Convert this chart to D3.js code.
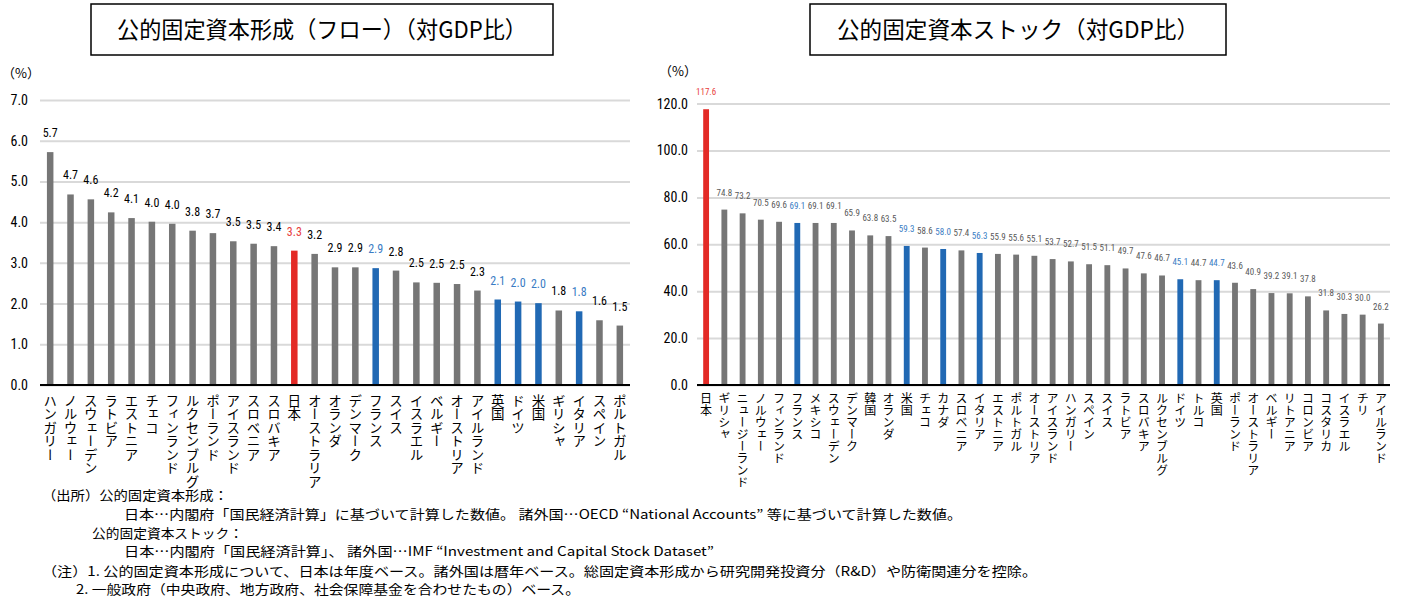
<!DOCTYPE html>
<html>
<head>
<meta charset="utf-8">
<script src="https://cdn.jsdelivr.net/npm/d3@7"></script>
<style>
  body { margin: 0; background: #fff; }
  svg text { font-family: "Noto Sans CJK JP", "Noto Sans", sans-serif; }
</style>
</head>
<body>
<div id="chart"></div>
<script>
// data
const flowCountries = ["ハンガリー","ノルウェー","スウェーデン","ラトビア","エストニア","チェコ","フィンランド","ルクセンブルグ","ポーランド","アイスランド","スロベニア","スロバキア","日本","オーストラリア","オランダ","デンマーク","フランス","スイス","イスラエル","ベルギー","オーストリア","アイルランド","英国","ドイツ","米国","ギリシャ","イタリア","スペイン","ポルトガル"];
const flowValues = [5.72,4.68,4.56,4.24,4.10,4.01,3.96,3.79,3.73,3.53,3.47,3.41,3.30,3.22,2.89,2.89,2.87,2.81,2.52,2.51,2.48,2.32,2.10,2.05,2.01,1.83,1.81,1.59,1.46];
const flowTicks = [0,1,2,3,4,5,6,7];

const stockCountries = ["日本","ギリシャ","ニュージーランド","ノルウェー","フィンランド","フランス","メキシコ","スウェーデン","デンマーク","韓国","オランダ","米国","チェコ","カナダ","スロベニア","イタリア","エストニア","ポルトガル","オーストリア","アイスランド","ハンガリー","スペイン","スイス","ラトビア","スロバキア","ルクセンブルグ","ドイツ","トルコ","英国","ポーランド","オーストラリア","ベルギー","リトアニア","コロンビア","コスタリカ","イスラエル","チリ","アイルランド"];
const stockValues = [117.6,74.8,73.2,70.5,69.6,69.1,69.1,69.1,65.9,63.8,63.5,59.3,58.6,58.0,57.4,56.3,55.9,55.6,55.1,53.7,52.7,51.5,51.1,49.7,47.6,46.7,45.1,44.7,44.7,43.6,40.9,39.2,39.1,37.8,31.8,30.3,30.0,26.2];
const stockTicks = [0,20,40,60,80,100,120];

const japan = ["日本"];
const majorCountries = ["米国","英国","ドイツ","フランス","イタリア","カナダ"];

const titles = ["公的固定資本形成（フロー）（対GDP比）", "公的固定資本ストック（対GDP比）"];
const notes = [
  "（出所）公的固定資本形成：",
  "日本…内閣府「国民経済計算」に基づいて計算した数値。 諸外国…OECD “National Accounts” 等に基づいて計算した数値。",
  "公的固定資本ストック：",
  "日本…内閣府「国民経済計算」、 諸外国…IMF “Investment and Capital Stock Dataset”",
  "（注）1. 公的固定資本形成について、日本は年度ベース。諸外国は暦年ベース。総固定資本形成から研究開発投資分（R&D）や防衛関連分を控除。",
  "2. 一般政府（中央政府、地方政府、社会保障基金を合わせたもの）ベース。"
];

const W = 1405, H = 597;
const colGrey = "#767676", colRed = "#e32a26", colBlue = "#2169b4";
const lblRed = "#e8403c", lblBlue = "#3a7cc4";
const numFont = "'Liberation Sans Narrow', 'Roboto Condensed', 'Liberation Sans', sans-serif";

const svg = d3.select("#chart").append("svg")
    .attr("width", W).attr("height", H);

function barColor(c) {
    if (japan.includes(c)) return colRed;
    if (majorCountries.includes(c)) return colBlue;
    return colGrey;
}
function labelColor(c, base) {
    if (japan.includes(c)) return lblRed;
    if (majorCountries.includes(c)) return lblBlue;
    return base;
}

function drawPanel(opt) {
    const g = svg.append("g");
    const x = d3.scaleBand().domain(opt.countries).range([opt.x0, opt.x1]).paddingInner(0.68).paddingOuter(0.34);
    const y = d3.scaleLinear().domain([0, opt.max]).range([opt.y0, opt.yTop]);

    // gridlines + tick labels
    const axis = g.append("g")
        .attr("transform", `translate(${opt.x0},0)`)
        .call(d3.axisLeft(y).tickValues(opt.ticks).tickFormat(d3.format(".1f")).tickSize(-(opt.x1 - opt.x0)).tickPadding(opt.tickPad));
    axis.select(".domain").remove();
    axis.selectAll(".tick line").attr("stroke", "#d9d9d9").attr("stroke-width", 2);
    axis.selectAll(".tick text").attr("fill", "#000").style("font-size", "14px")
        .style("font-family", numFont);

    g.append("text").attr("x", opt.pctX).attr("y", opt.pctY)
        .style("font-size", "13px").attr("fill", "#000").text("（%）");

    // bars
    g.selectAll("rect.bar").data(opt.countries).join("rect")
        .attr("class", "bar")
        .attr("x", d => x(d))
        .attr("width", x.bandwidth())
        .attr("y", (d, i) => y(opt.values[i]))
        .attr("height", (d, i) => y(0) - y(opt.values[i]))
        .attr("fill", d => barColor(d));

    // baseline
    g.append("line").attr("x1", opt.x0).attr("x2", opt.x1)
        .attr("y1", y(0)).attr("y2", y(0))
        .attr("stroke", "#000").attr("stroke-width", 2);

    // value labels
    g.selectAll("text.val").data(opt.countries).join("text")
        .attr("class", "val")
        .attr("x", d => x(d) + x.bandwidth() / 2)
        .attr("y", (d, i) => y(opt.values[i]) - opt.valGap)
        .attr("text-anchor", "middle")
        .style("font-size", opt.valSize + "px")
        .style("font-family", numFont)
        .attr("fill", d => labelColor(d, opt.valColor))
        .text((d, i) => opt.values[i].toFixed(1));

    // category labels, vertical
    g.selectAll("text.cat").data(opt.countries).join("text")
        .attr("class", "cat")
        .attr("x", d => x(d) + x.bandwidth() / 2)
        .attr("y", opt.catY)
        .style("writing-mode", "vertical-rl")
        .style("text-orientation", "upright")
        .style("font-size", opt.catSize + "px")
        .attr("fill", "#000")
        .text(d => d);

    // title box
    g.append("rect").attr("x", opt.boxX).attr("y", 4).attr("width", opt.boxW).attr("height", 51)
        .attr("fill", "none").attr("stroke", "#000").attr("stroke-width", 1.5);
    g.append("text").attr("x", opt.boxX + opt.boxW / 2).attr("y", 38)
        .attr("text-anchor", "middle")
        .attr("textLength", opt.titleLen).attr("lengthAdjust", "spacingAndGlyphs")
        .style("font-size", "23px").attr("fill", "#000")
        .text(opt.title);
}

drawPanel({
    countries: flowCountries, values: flowValues, ticks: flowTicks, max: 7,
    x0: 40, x1: 630, y0: 385, yTop: 100, tickPad: 12,
    pctX: 2, pctY: 78, valGap: 15, valSize: 12, valColor: "#000",
    catY: 394, catSize: 13.5,
    boxX: 91, boxW: 462, title: titles[0], titleLen: 410
});

drawPanel({
    countries: stockCountries, values: stockValues, ticks: stockTicks, max: 120,
    x0: 697, x1: 1390, y0: 385, yTop: 103.6, tickPad: 9,
    pctX: 659, pctY: 76, valGap: 14, valSize: 9, valColor: "#595959",
    catY: 392, catSize: 12,
    boxX: 810, boxW: 416, title: titles[1], titleLen: 362
});

// footnotes
const noteX = [42, 124, 92, 124, 42, 76];
const noteY = [500, 519, 538, 556, 576, 594];
const noteLen = [186, 838, 151, 590, 995, 504];
svg.selectAll("text.note").data(notes).join("text")
    .attr("class", "note")
    .attr("x", (d, i) => noteX[i])
    .attr("y", (d, i) => noteY[i])
    .attr("textLength", (d, i) => noteLen[i])
    .attr("lengthAdjust", "spacingAndGlyphs")
    .style("font-size", "13px")
    .attr("fill", "#000")
    .text(d => d);
</script>
</body>
</html>
